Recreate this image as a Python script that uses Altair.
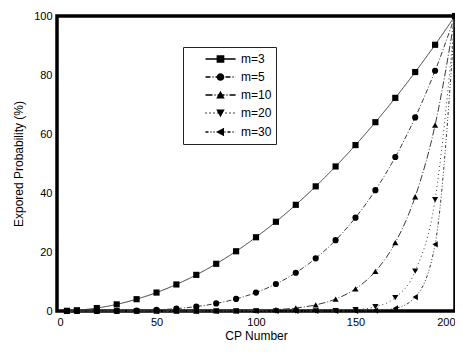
import altair as alt
import pandas as pd

cp = [5, 10, 20, 30, 40, 50, 60, 70, 80, 90, 100, 110, 120, 130, 140, 150, 160, 170, 180, 190, 200]
m3 = [0.06, 0.25, 1, 2.25, 4, 6.25, 9, 12.25, 16, 20.25, 25, 30.25, 36, 42.25, 49, 56.25, 64, 72.25, 81, 90.25, 100]
m5 = [0, 0, 0.01, 0.05, 0.16, 0.39, 0.81, 1.5, 2.56, 4.1, 6.25, 9.15, 12.96, 17.85, 24.01, 31.64, 40.96, 52.2, 65.61, 81.45, 100]
m10 = [0, 0, 0, 0, 0, 0, 0, 0.01, 0.03, 0.08, 0.2, 0.46, 1.01, 2.07, 4.04, 7.51, 13.42, 23.16, 38.74, 63.02, 100]
m20 = [0, 0, 0, 0, 0, 0, 0, 0, 0, 0, 0, 0, 0.01, 0.03, 0.11, 0.42, 1.44, 4.56, 13.51, 37.74, 100]
m30 = [0, 0, 0, 0, 0, 0, 0, 0, 0, 0, 0, 0, 0, 0, 0, 0.02, 0.15, 0.9, 4.71, 22.59, 100]

labels = ["m=3", "m=5", "m=10", "m=20", "m=30"]
series = [m3, m5, m10, m20, m30]
shapes = ["square", "circle", "triangle-up", "triangle-down", "triangle-left"]
dashes = [[1, 0], [5, 2, 1, 2], [7, 2, 1, 2], [1, 3], [3, 2, 1, 2, 1, 2]]

# legend glyph: a short (dashed) line with the marker in its middle, drawn as one symbol path
UNIT = 7.0  # px per path unit for symbolSize 196
marker_paths = [
    "M3.09,-0.55H4.19V0.55H3.09Z",
    "M3.09,0A0.55,0.55 0 1,1 4.19,0A0.55,0.55 0 1,1 3.09,0Z",
    "M3.64,-0.6L4.24,0.5L3.04,0.5Z",
    "M3.64,0.6L3.04,-0.5L4.24,-0.5Z",
    "M3.0,0L4.15,-0.6L4.15,0.6Z",
]


def glyph(pattern, marker, x0=1.5, x1=5.8, hw=0.09):
    parts = []
    if pattern[1] == 0:
        parts.append(f"M{x0},{-hw}H{x1}V{hw}H{x0}Z")
    else:
        pos, i = x0, 0
        while pos < x1:
            seg = pattern[i % len(pattern)] / UNIT
            if i % 2 == 0:
                end = min(pos + seg, x1)
                parts.append(f"M{pos:.3f},{-hw}H{end:.3f}V{hw}H{pos:.3f}Z")
            pos += seg
            i += 1
    return "".join(parts) + marker


legend_paths = [glyph(d, mk) for d, mk in zip(dashes, marker_paths)]

rows = []
for lab, vals in zip(labels, series):
    for xv, yv in zip(cp, vals):
        rows.append({"cp": xv, "p": yv, "m": lab})
df = pd.DataFrame(rows)

FONT = "Liberation Sans"

x = alt.X("cp:Q", scale=alt.Scale(domain=[0, 200], nice=False),
          axis=alt.Axis(values=[0, 50, 100, 150, 200], title="CP Number", ticks=False,
                        domain=False, grid=False, labelPadding=5, titlePadding=3))
y = alt.Y("p:Q", scale=alt.Scale(domain=[0, 100], nice=False),
          axis=alt.Axis(values=[0, 20, 40, 60, 80, 100], title="Expored Probability (%)",
                        ticks=False, domain=False, grid=False, labelPadding=5, titlePadding=8))

dash_scale = alt.Scale(domain=labels, range=dashes)

lines = alt.Chart(df).mark_line(color="#3a3a3a", strokeWidth=1, interpolate="monotone").encode(
    x=x, y=y,
    strokeDash=alt.StrokeDash("m:N", scale=dash_scale, legend=None),
)

points = alt.Chart(df).mark_point(filled=True, color="black", size=38, opacity=1).encode(
    x=x, y=y,
    shape=alt.Shape("m:N", scale=alt.Scale(domain=labels, range=shapes), legend=None),
)

leg = alt.Legend(orient="none", legendX=126, legendY=31, title=None, padding=4,
                 symbolSize=196, labelOffset=38, rowPadding=3, strokeColor="#222",
                 fillColor="white", labelFont=FONT, labelFontSize=12, labelColor="black")

legend_layer = alt.Chart(df).transform_filter("false").mark_point(
    filled=True, color="black", opacity=1
).encode(
    x=x, y=y,
    shape=alt.Shape("m:N", scale=alt.Scale(domain=labels, range=legend_paths), legend=leg),
)

chart = alt.layer(lines, points, legend_layer).resolve_scale(shape="independent").properties(
    width=398, height=295,
    background="white",
    autosize=alt.AutoSizeParams(type="none"),
    padding={"left": 49, "top": 8, "right": 0, "bottom": 33},
).configure_view(stroke="black", strokeWidth=3.5).configure_axis(
    labelFont=FONT, labelFontSize=11, labelColor="black",
    titleFont=FONT, titleFontSize=12, titleFontWeight="normal", titleColor="black",
)

chart.save("out.html", embed_options={"renderer": "svg", "actions": False})
